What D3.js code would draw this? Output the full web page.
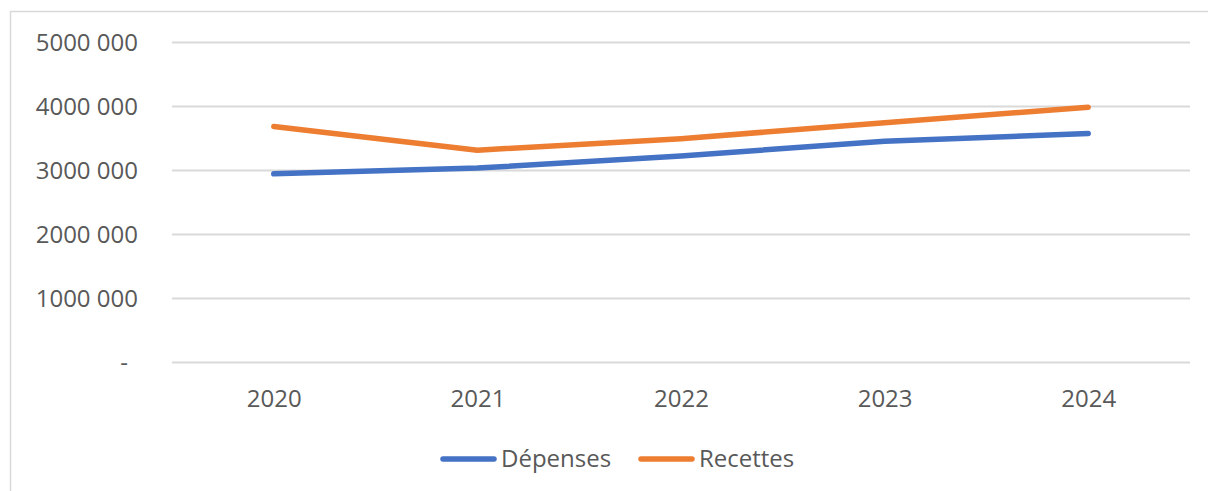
<!DOCTYPE html>
<html>
<head>
<meta charset="utf-8">
<script src="https://cdn.jsdelivr.net/npm/d3@7"></script>
<style>
  body { margin: 0; background: #fff; }
  text { font-family: "Open Sans", sans-serif; fill: #595959; }
</style>
</head>
<body>
<div id="container"></div>
<script>
"use strict";

const years = ["2020", "2021", "2022", "2023", "2024"];
const depenses = [2940000, 3030000, 3220000, 3450000, 3570000];
const recettes = [3680000, 3310000, 3490000, 3740000, 3980000];
const yTicks = [0, 1000000, 2000000, 3000000, 4000000, 5000000];
const yTickLabels = ["-", "1000 000", "2000 000", "3000 000", "4000 000", "5000 000"];
const seriesNames = ["Dépenses", "Recettes"];
const seriesColors = ["#4472C4", "#ED7D31"];

const width = 1208;
const height = 491;
const plot = { left: 172, right: 1190, top: 42, bottom: 362 };
const fontSize = 24;

const svg = d3.create("svg").attr("width", width).attr("height", height);
d3.select("#container").append(() => svg.node());

// Chart frame (only top and left edges are visible in the crop).
svg
  .append("path")
  .attr("d", `M10.5,${height} V11.5 H${width}`)
  .attr("fill", "none")
  .attr("stroke", "#d9d9d9")
  .attr("stroke-width", 1.5);

const x = d3.scalePoint().domain(years).range([plot.left, plot.right]).padding(0.5);
const y = d3.scaleLinear().domain([0, 5000000]).range([plot.bottom, plot.top]);

// Horizontal gridlines + y labels.
const yAxis = d3
  .axisLeft(y)
  .tickValues(yTicks)
  .tickSize(-(plot.right - plot.left))
  .tickPadding(34)
  .tickFormat((d, i) => yTickLabels[i]);

svg
  .append("g")
  .attr("transform", `translate(${plot.left}, 0)`)
  .call(yAxis)
  .call((g) => g.select(".domain").remove())
  .call((g) => g.selectAll("line").attr("stroke", "#d9d9d9").attr("stroke-width", 2))
  .call((g) =>
    g
      .selectAll("text")
      .style("font-size", `${fontSize}px`)
      .attr("fill", "#595959")
      .attr("dy", "0.35em")
      .attr("dx", (d) => (d === 0 ? -10 : 0))
  );

// X axis labels (no line, no ticks).
svg
  .append("g")
  .attr("transform", `translate(0, ${plot.bottom})`)
  .call(d3.axisBottom(x).tickSize(0).tickPadding(28))
  .call((g) => g.select(".domain").remove())
  .call((g) => g.selectAll("text").style("font-size", `${fontSize}px`).attr("fill", "#595959"));

// Series lines.
const line = d3
  .line()
  .x((d, i) => x(years[i]))
  .y((d) => y(d));

[depenses, recettes].forEach((values, i) => {
  svg
    .append("path")
    .datum(values)
    .attr("d", line)
    .attr("fill", "none")
    .attr("stroke", seriesColors[i])
    .attr("stroke-width", 5.5)
    .attr("stroke-linecap", "round")
    .attr("stroke-linejoin", "round");
});

// Legend.
const legendX = [443, 641];
const legendY = 459;
seriesNames.forEach((name, i) => {
  const g = svg.append("g").attr("transform", `translate(${legendX[i]}, ${legendY})`);
  g.append("line")
    .attr("x1", 0)
    .attr("x2", 51)
    .attr("stroke", seriesColors[i])
    .attr("stroke-width", 5.5)
    .attr("stroke-linecap", "round");
  g.append("text")
    .attr("x", 58)
    .attr("dy", "0.35em")
    .style("font-size", `${fontSize}px`)
    .text(name);
});
</script>
</body>
</html>
